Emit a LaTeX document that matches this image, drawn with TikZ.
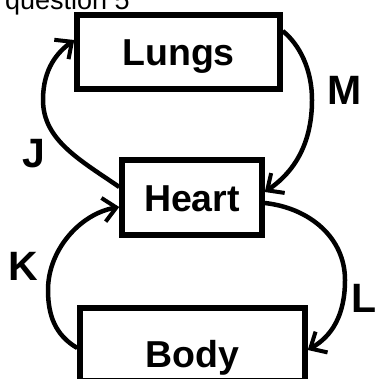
\documentclass[tikz,border=0pt]{standalone}
\usepackage{fontspec}
\setmainfont{Liberation Sans}
\usetikzlibrary{arrows.meta}
\tikzset{
  organ/.style={draw, line width=5.5pt, inner sep=0pt, font=\fontsize{37.5}{40}\selectfont\bfseries, text height=27pt, text depth=0pt},
  flow/.style={line width=4.5pt, -{Straight Barb[length=13pt,width=24pt,line width=4pt]}},
  lbl/.style={inner sep=0pt, font=\fontsize{41}{44}\selectfont\bfseries, text height=29.5pt, text depth=0pt},
  title/.style={inner sep=0pt, anchor=base west, font=\fontsize{27}{30}\selectfont}
}
\begin{document}
\begin{tikzpicture}[x=1pt,y=-1pt]
\useasboundingbox (0,0) rectangle (378,379);
\fill[white] (0,0) rectangle (378,379);
\node[title] (q) at (5,10) {question 5};
\node[organ, minimum width=203pt, minimum height=74pt] (lungs) at (178.5,52) {Lungs};
\node[organ, minimum width=140pt, minimum height=75pt] (heart) at (192,197.5) {Heart};
\node[organ, minimum width=225pt, minimum height=73pt, text height=45pt] (body) at (192.5,344.5) {Body};
% J
\draw[flow] ([yshift=10.5pt]heart.west) .. controls (80,160) and (43,140) .. (43,100)
  .. controls (43,68) and (58,52) .. ([yshift=12pt]lungs.west);
% M
\draw[flow] ([yshift=21pt]lungs.east) .. controls (300,45) and (312,70) .. (312,100)
  .. controls (312,140) and (297,170) .. ([yshift=5.5pt]heart.east);
% L
\draw[flow] ([yshift=-5.5pt]heart.east) .. controls (310,208) and (345,238) .. (345,280)
  .. controls (345,315) and (332,336) .. ([yshift=-5.5pt]body.east);
% K
\draw[flow] ([yshift=-3.5pt]body.west) .. controls (55,335) and (48,315) .. (48,290)
  .. controls (48,250) and (80,214) .. ([yshift=-9.5pt]heart.west);
\node[lbl] (J) at (34,153) {J};
\node[lbl] (M) at (345,90) {M};
\node[lbl] (K) at (23.5,266) {K};
\node[lbl] (L) at (364,298) {L};
\end{tikzpicture}
\end{document}
